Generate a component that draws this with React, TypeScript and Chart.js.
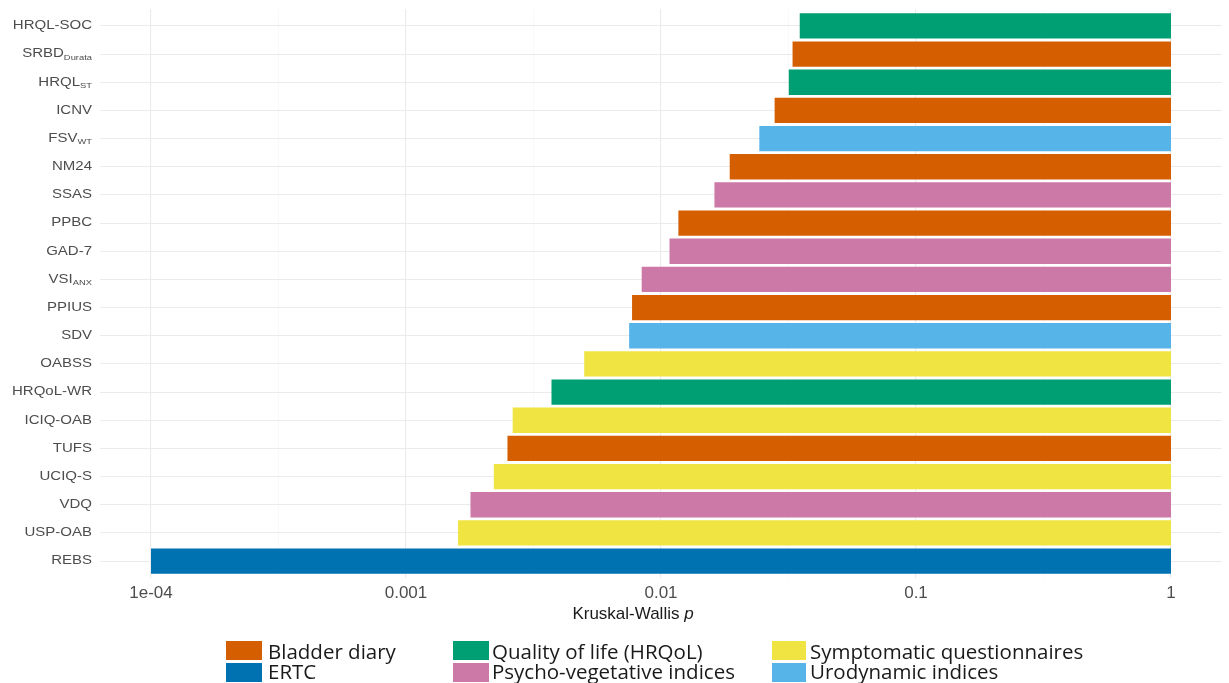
import React, { useEffect, useRef } from "react";
import { Chart, registerables } from "chart.js";

Chart.register(...registerables);

// ---- data ----
const labelBase = [
  "HRQL-SOC", "SRBD", "HRQL", "ICNV", "FSV", "NM24", "SSAS", "PPBC", "GAD-7", "VSI",
  "PPIUS", "SDV", "OABSS", "HRQoL-WR", "ICIQ-OAB", "TUFS", "UCIQ-S", "VDQ", "USP-OAB", "REBS",
];
const labelSub = [
  "", "Durata", "ST", "", "WT", "", "", "", "", "ANX",
  "", "", "", "", "", "", "", "", "", "",
];
const pValues = [
  0.035, 0.0328, 0.0317, 0.0279, 0.0243, 0.0186, 0.0162, 0.0117, 0.0108, 0.0084,
  0.0077, 0.0075, 0.005, 0.00372, 0.00262, 0.0025, 0.00221, 0.00179, 0.0016, 0.0001,
];
const groups = [
  "Quality of life (HRQoL)", "Bladder diary", "Quality of life (HRQoL)", "Bladder diary", "Urodynamic indices",
  "Bladder diary", "Psycho-vegetative indices", "Bladder diary", "Psycho-vegetative indices", "Psycho-vegetative indices",
  "Bladder diary", "Urodynamic indices", "Symptomatic questionnaires", "Quality of life (HRQoL)", "Symptomatic questionnaires",
  "Bladder diary", "Symptomatic questionnaires", "Psycho-vegetative indices", "Symptomatic questionnaires", "ERTC",
];
const groupNames = [
  "Bladder diary", "ERTC", "Quality of life (HRQoL)", "Psycho-vegetative indices",
  "Symptomatic questionnaires", "Urodynamic indices",
];
const groupColors = ["#D55E00", "#0072B2", "#009E73", "#CC79A7", "#F0E442", "#56B4E9"];
const xTickValues = [1e-4, 1e-3, 0.01, 0.1, 1];
const xTickLabels = ["1e-04", "0.001", "0.01", "0.1", "1"];
const xTitle = "Kruskal-Wallis ";
const xTitleItalic = "p";

const colorOf = (g: string) => groupColors[groupNames.indexOf(g)];

const yLabelPlugin = {
  id: "yLabels",
  afterDraw(chart: any) {
    const ctx = chart.ctx;
    const ys = chart.scales.y;
    const area = chart.chartArea;
    const sx = 1.25;
    ctx.save();
    ctx.fillStyle = "#4d4d4d";
    ctx.textBaseline = "middle";
    ctx.textAlign = "left";
    labelBase.forEach((base, i) => {
      const y = ys.getPixelForValue(i);
      ctx.font = '12px "Liberation Sans"';
      const wB = ctx.measureText(base).width;
      const sub = labelSub[i];
      let wS = 0;
      if (sub) {
        ctx.font = '7.5px "Liberation Sans"';
        wS = ctx.measureText(sub).width;
      }
      const total = (wB + wS) * sx;
      ctx.save();
      ctx.translate(area.left - 8 - total, y);
      ctx.scale(sx, 1);
      ctx.font = '12px "Liberation Sans"';
      ctx.fillText(base, 0, 0);
      if (sub) {
        ctx.font = '7.5px "Liberation Sans"';
        ctx.fillText(sub, wB, 3.5);
      }
      ctx.restore();
    });
    // x-axis title
    ctx.fillStyle = "#1a1a1a";
    ctx.textBaseline = "alphabetic";
    ctx.font = '17px "Liberation Sans"';
    const w1 = ctx.measureText(xTitle).width;
    ctx.font = 'italic 17px "Liberation Sans"';
    const w2 = ctx.measureText(xTitleItalic).width;
    const cx = (area.left + area.right) / 2 - 28;
    const start = cx - (w1 + w2) / 2;
    ctx.font = '17px "Liberation Sans"';
    ctx.fillText(xTitle, start, area.bottom + 41);
    ctx.font = 'italic 17px "Liberation Sans"';
    ctx.fillText(xTitleItalic, start + w1, area.bottom + 41);
    ctx.restore();
  },
};

const legendCols = [
  { swatchLeft: 226, swatchWidth: 36, textLeft: 268, items: [0, 1] },
  { swatchLeft: 453, swatchWidth: 36, textLeft: 492, items: [2, 3] },
  { swatchLeft: 772, swatchWidth: 34, textLeft: 810, items: [4, 5] },
];

export default function App() {
  const ref = useRef<HTMLCanvasElement | null>(null);
  useEffect(() => {
    document.body.style.margin = "0";
    if (!ref.current) return;
    const tickVals: number[] = [];
    xTickValues.forEach((v, i) => {
      tickVals.push(v);
      if (i < xTickValues.length - 1) tickVals.push(Math.sqrt(v * xTickValues[i + 1]));
    });
    const chart = new Chart(ref.current, {
      type: "bar",
      data: {
        datasets: [
          {
            data: pValues.map((p, i) => ({ x: [p, 1], y: i })) as any,
            backgroundColor: groups.map(colorOf),
            borderWidth: 0,
            barPercentage: 0.9,
            categoryPercentage: 1,
          },
        ],
      },
      options: {
        indexAxis: "y",
        animation: false,
        responsive: true,
        maintainAspectRatio: false,
        layout: { padding: { left: 100, right: 7, top: 9, bottom: 0 } },
        plugins: { legend: { display: false }, tooltip: { enabled: false } },
        scales: {
          x: {
            type: "logarithmic",
            min: Math.pow(10, -4.2),
            max: Math.pow(10, 0.2),
            afterBuildTicks: (s: any) => {
              s.ticks = tickVals.map((v) => ({ value: v }));
            },
            afterFit: (s: any) => {
              s.height = 105;
            },
            ticks: {
              autoSkip: false,
              maxRotation: 0,
              padding: 5,
              color: "#4d4d4d",
              font: { family: '"Liberation Sans"', size: 17 },
              callback: (_v: any, index: number) => (index % 2 === 0 ? xTickLabels[index / 2] : ""),
            },
            grid: {
              drawTicks: false,
              color: (c: any) => (c.index % 2 === 0 ? "#ebebeb" : "#f5f5f5"),
              lineWidth: (c: any) => (c.index % 2 === 0 ? 1.1 : 0.6),
            },
            border: { display: false },
          },
          y: {
            type: "linear",
            reverse: true,
            offset: false,
            min: -0.6,
            max: labelBase.length - 0.4,
            afterBuildTicks: (s: any) => {
              s.ticks = labelBase.map((_, i) => ({ value: i }));
            },
            afterFit: (s: any) => {
              s.width = 0;
            },
            ticks: { display: false },
            grid: { drawTicks: false, offset: false, color: "#ebebeb", lineWidth: 1.1 },
            border: { display: false },
          },
        },
      },
      plugins: [yLabelPlugin],
    });
    return () => chart.destroy();
  }, []);

  return (
    <div style={{ position: "relative", width: 1229, height: 683, background: "#fff" }}>
      <canvas ref={ref} />
      {legendCols.map((col, ci) =>
        col.items.map((gi, ri) => (
          <React.Fragment key={`${ci}-${ri}`}>
            <div
              style={{
                position: "absolute",
                left: col.swatchLeft,
                top: 641 + ri * 22,
                width: col.swatchWidth,
                height: 19,
                background: groupColors[gi],
              }}
            />
            <div
              style={{
                position: "absolute",
                left: col.textLeft,
                top: 641 + ri * 20,
                fontFamily: '"Open Sans"',
                fontSize: 20.5,
                lineHeight: "21px",
                color: "#1a1a1a",
                whiteSpace: "nowrap",
              }}
            >
              {groupNames[gi]}
            </div>
          </React.Fragment>
        ))
      )}
    </div>
  );
}
